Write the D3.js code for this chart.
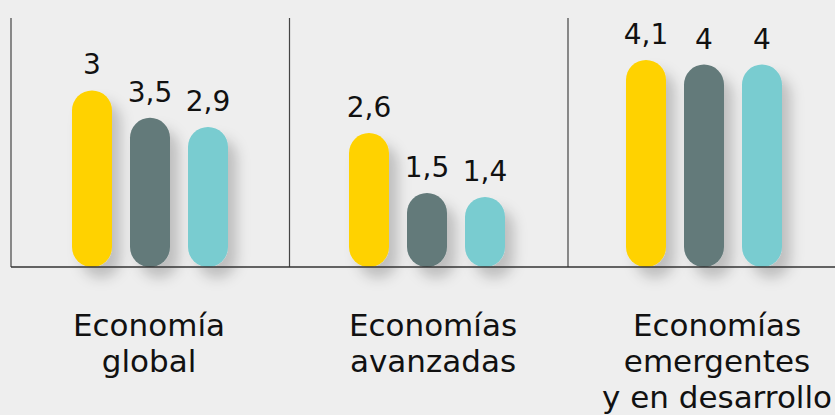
<!DOCTYPE html>
<html>
<head>
<meta charset="utf-8">
<script src="https://cdn.jsdelivr.net/npm/d3@7"></script>
<style>
  html, body { margin: 0; padding: 0; background: #eeeeee; }
  svg { display: block; font-family: "DejaVu Sans", sans-serif; }
</style>
</head>
<body>
<div id="chart"></div>
<script>
// data
const groups = ["global", "avanzadas", "emergentes"];
const groupLabels = [
  ["Economía", "global"],
  ["Economías", "avanzadas"],
  ["Economías", "emergentes", "y en desarrollo"]
];
const series = ["a", "b", "c"];
const colors = ["#FFD205", "#637A7A", "#79CCD0"];
// bar heights as drawn in the picture
const values = [
  [3.48, 2.94, 2.76],
  [2.64, 1.46, 1.38],
  [4.08, 3.99, 3.99]
];
// numbers written above the bars
const valueLabels = [
  ["3", "3,5", "2,9"],
  ["2,6", "1,5", "1,4"],
  ["4,1", "4", "4"]
];

const width = 835, height = 415;
const baseY = 267, topY = 13.3;

const svg = d3.select("#chart").append("svg")
  .attr("width", width)
  .attr("height", height);

// shadow under the bars
const defs = svg.append("defs");
const f = defs.append("filter").attr("id", "shadow")
  .attr("x", "-50%").attr("y", "-20%").attr("width", "220%").attr("height", "150%");
f.append("feDropShadow")
  .attr("dx", 9).attr("dy", 11)
  .attr("stdDeviation", 6.5)
  .attr("flood-color", "#000")
  .attr("flood-opacity", 0.2);

const x = d3.scaleBand().domain(groups).range([11, 842]);
const sepX = d3.scalePoint().domain(groups).range([11, 568]);
const inner = d3.scaleBand().domain(series).range([61, 217]).paddingInner(18 / 58);
const y = d3.scaleLinear().domain([0, 5]).range([baseY, topY]);
const labelX = d3.scalePoint().domain(groups).range([149, 717]);

// separators
svg.selectAll("line.sep").data(groups).join("line")
  .attr("class", "sep")
  .attr("x1", d => sepX(d)).attr("x2", d => sepX(d))
  .attr("y1", 18).attr("y2", baseY)
  .attr("stroke", "#444").attr("stroke-width", 1.2);

// bars
const g = svg.selectAll("g.grp").data(groups).join("g")
  .attr("class", "grp")
  .attr("transform", d => `translate(${x(d)},0)`);

g.selectAll("rect").data((d, i) => values[i].map((v, j) => ({ v, s: series[j], j })))
  .join("rect")
  .attr("x", d => inner(d.s))
  .attr("y", d => y(d.v))
  .attr("width", inner.bandwidth())
  .attr("height", d => baseY - y(d.v))
  .attr("rx", inner.bandwidth() / 2)
  .attr("fill", d => colors[d.j])
  .attr("filter", "url(#shadow)");

g.selectAll("text.val").data((d, i) => values[i].map((v, j) => ({ v, s: series[j], t: valueLabels[i][j] })))
  .join("text")
  .attr("class", "val")
  .attr("x", d => inner(d.s) + inner.bandwidth() / 2)
  .attr("y", d => y(d.v) - 16)
  .attr("text-anchor", "middle")
  .attr("font-size", 28)
  .attr("fill", "#111")
  .text(d => d.t);

// baseline
svg.append("line")
  .attr("x1", 11).attr("x2", width)
  .attr("y1", baseY).attr("y2", baseY)
  .attr("stroke", "#333").attr("stroke-width", 1.5);

// category labels
const lab = svg.selectAll("text.cat").data(groups).join("text")
  .attr("class", "cat")
  .attr("x", d => labelX(d))
  .attr("y", 336)
  .attr("text-anchor", "middle")
  .attr("font-size", 31)
  .attr("fill", "#111");
lab.selectAll("tspan").data((d, i) => groupLabels[i]).join("tspan")
  .attr("x", function () { return d3.select(this.parentNode).attr("x"); })
  .attr("dy", (d, i) => i === 0 ? 0 : 36)
  .text(d => d);
</script>
</body>
</html>
